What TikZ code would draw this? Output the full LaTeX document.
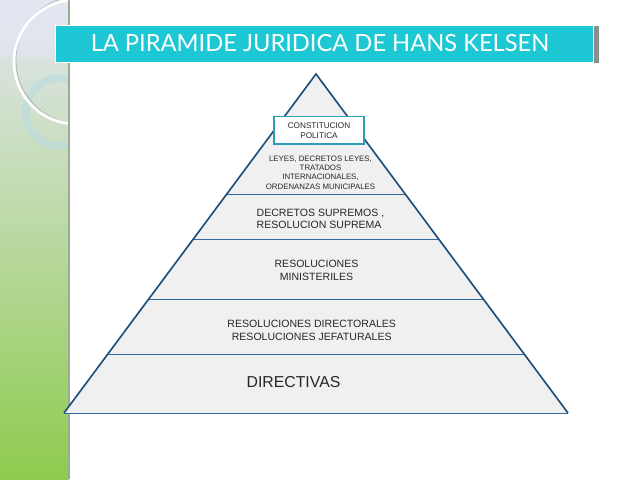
\documentclass[tikz,border=0pt]{standalone}
\usepackage{fontspec}
\setmainfont{Liberation Sans}
\newfontfamily\titlefont{Lato}
\usetikzlibrary{calc,shadows}
\definecolor{nnavy}{HTML}{1F4E79}
\definecolor{nline}{HTML}{2F6AA3}
\definecolor{nteal}{HTML}{2E9DB6}
\definecolor{ncyan}{HTML}{1DC8D4}
\definecolor{nfill}{HTML}{F0F0F0}
\definecolor{ntext}{HTML}{262626}
\definecolor{nshadow}{HTML}{8E8E8E}
\definecolor{nlav}{HTML}{E4E6F2}
\definecolor{ngreenmid}{HTML}{C6DDB6}
\definecolor{ngreen}{HTML}{8ECB4E}
\definecolor{nring}{HTML}{B9DCE2}
\definecolor{nstripline}{HTML}{9BAA97}

\begin{document}
\begin{tikzpicture}[x=0.3mm,y=-0.3mm,
  banner/.style={fill=ncyan, draw=white, line width=0.8pt, text=white, inner sep=0,
    minimum width=161.4mm, minimum height=11.1mm, font=\titlefont\fontsize{20.2}{22}\selectfont,
    drop shadow={shadow xshift=1.8mm, shadow yshift=-0.3mm, fill=nshadow, opacity=1}},
  topbox/.style={draw=nteal, fill=white, line width=1.2pt, inner sep=0, text=ntext,
    minimum width=27mm, minimum height=8.2mm, align=center, font=\fontsize{7}{8.5}\selectfont},
  level/.style={font=\fontsize{9}{11}\selectfont, text=ntext, align=center},
  tinylevel/.style={font=\fontsize{6.7}{7.9}\selectfont, text=ntext, align=center},
  divider/.style={nline, line width=0.8pt}]
 \useasboundingbox[fill=white] (0,0) rectangle (638,479);
 % side strip
 \begin{scope}
  \clip (0,0) rectangle (69,479);
  \shade[top color=nlav, middle color=ngreenmid, bottom color=ngreen] (0,0) rectangle (69,479);
  \fill[nlav, opacity=0.6] (0,0) rectangle (69,57);
  \draw[nring, line width=6.5pt, opacity=0.6] (60,112) circle (34);
  \draw[gray!60, line width=0.6pt] (80,60) circle (64);
  \draw[white, line width=2.2pt] (76,62) circle (62);
 \end{scope}
 \draw[nstripline, line width=1.5pt] (69,0) -- (69,479);
 % title
 \node[banner] (title) at (324,43.5) {\hspace*{-2.4mm}LA PIRAMIDE JURIDICA DE HANS KELSEN};
 % pyramid
 \coordinate (apex) at (316,74);
 \coordinate (bl) at (64,413);
 \coordinate (br) at (568,413);
 \fill[nfill] (apex) -- (br) -- (bl) -- cycle;
 \foreach \t in {0.354,0.487,0.664,0.826,1}
  \draw[divider] ($(apex)!\t!(bl)$) -- ($(apex)!\t!(br)$);
 \draw[nnavy, line width=1.4pt] (bl) -- (apex) -- (br);
 % levels
 \node[topbox] (constitucion) at (319,130.4) {CONSTITUCION\\POLITICA};
 \node[tinylevel] (leyes) at (320.5,172.5) {LEYES, DECRETOS LEYES,\\TRATADOS\\INTERNACIONALES,\\ORDENANZAS MUNICIPALES};
 \node[level, align=left, font=\fontsize{9}{10.2}\selectfont] (decretos) at (320.5,219) {DECRETOS SUPREMOS ,\\RESOLUCION SUPREMA};
 \node[level] (ministeriales) at (316.5,270.5) {RESOLUCIONES\\MINISTERILES};
 \node[level] (directorales) at (311.7,330.5) {RESOLUCIONES DIRECTORALES\\RESOLUCIONES JEFATURALES};
 \node[level, font=\fontsize{13.5}{15}\selectfont] (directivas) at (293.5,382.5) {DIRECTIVAS};
\end{tikzpicture}
\end{document}
